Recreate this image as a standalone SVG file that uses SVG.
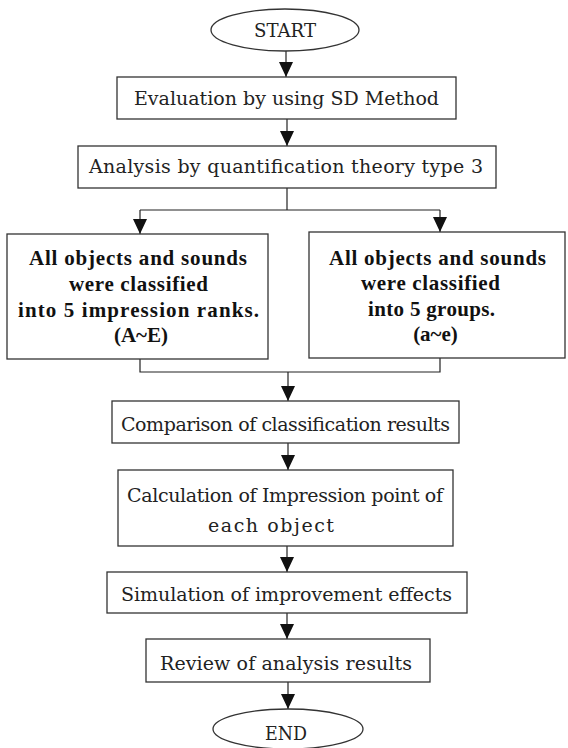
<svg xmlns="http://www.w3.org/2000/svg" width="568" height="748" viewBox="0 0 568 748">
<style>
  .box { fill: #ffffff; stroke: #333333; stroke-width: 1.3; }
  .t { font-family: "DejaVu Serif", "Liberation Serif", serif; font-size: 19px; fill: #222222; text-anchor: middle; }
  .b { font-family: "Liberation Serif", "DejaVu Serif", serif; font-size: 21px; font-weight: bold; fill: #111111; text-anchor: middle; }
  .c { fill: none; stroke: #222222; stroke-width: 1.2; }
</style>
<defs>
  <marker id="ah" markerUnits="userSpaceOnUse" markerWidth="16" markerHeight="15" refX="15" refY="7" orient="auto">
    <path d="M0,0 L15,7 L0,14 Z" fill="#111111"/>
  </marker>
</defs>
<rect width="568" height="748" fill="#ffffff"/>

<g id="connectors">
  <line class="c" x1="286" y1="51" x2="286" y2="77" marker-end="url(#ah)"/>
  <line class="c" x1="287" y1="119" x2="287" y2="146" marker-end="url(#ah)"/>
  <polyline class="c" points="287,188 287,210"/>
  <polyline class="c" points="140,210 440,210"/>
  <line class="c" x1="140" y1="210" x2="140" y2="234" marker-end="url(#ah)"/>
  <line class="c" x1="440" y1="210" x2="440" y2="232" marker-end="url(#ah)"/>
  <polyline class="c" points="140,359 140,372 440,372 440,358"/>
  <line class="c" x1="288" y1="372" x2="288" y2="401" marker-end="url(#ah)"/>
  <line class="c" x1="288" y1="443" x2="288" y2="470" marker-end="url(#ah)"/>
  <line class="c" x1="287" y1="546" x2="287" y2="572" marker-end="url(#ah)"/>
  <line class="c" x1="287" y1="613" x2="287" y2="639" marker-end="url(#ah)"/>
  <line class="c" x1="288" y1="682" x2="288" y2="709" marker-end="url(#ah)"/>
</g>

<g id="start">
  <ellipse class="box" cx="285" cy="30" rx="74" ry="21"/>
  <text class="t" x="285" y="37" textLength="62" lengthAdjust="spacingAndGlyphs">START</text>
</g>

<g id="evaluation">
  <rect class="box" x="117" y="77" width="339" height="42"/>
  <text class="t" x="286.5" y="105" textLength="305" lengthAdjust="spacing">Evaluation by using SD Method</text>
</g>

<g id="analysis">
  <rect class="box" x="78" y="146" width="418" height="42"/>
  <text class="t" x="286" y="173" textLength="394" lengthAdjust="spacing">Analysis by quantification theory type 3</text>
</g>

<g id="ranks">
  <rect class="box" x="7" y="234" width="261" height="125"/>
  <text class="b" x="138" y="265" textLength="218" lengthAdjust="spacing">All objects and sounds</text>
  <text class="b" x="138.5" y="291" textLength="139" lengthAdjust="spacing">were classified</text>
  <text class="b" x="138.5" y="317" textLength="241" lengthAdjust="spacing">into 5 impression ranks.</text>
  <text class="b" x="141" y="342">(A~E)</text>
</g>

<g id="groups">
  <rect class="box" x="309" y="232" width="256" height="126"/>
  <text class="b" x="437.5" y="265" textLength="217" lengthAdjust="spacing">All objects and sounds</text>
  <text class="b" x="430.5" y="290" textLength="139" lengthAdjust="spacing">were classified</text>
  <text class="b" x="431.5" y="316" textLength="127" lengthAdjust="spacing">into 5 groups.</text>
  <text class="b" x="435.5" y="341">(a~e)</text>
</g>

<g id="comparison">
  <rect class="box" x="112" y="401" width="347" height="42"/>
  <text class="t" x="285.5" y="431" textLength="329" lengthAdjust="spacing">Comparison of classification results</text>
</g>

<g id="calculation">
  <rect class="box" x="118" y="470" width="335" height="76"/>
  <text class="t" x="285" y="502" textLength="316" lengthAdjust="spacing">Calculation of Impression point of</text>
  <text class="t" x="271" y="532" textLength="126" lengthAdjust="spacing">each object</text>
</g>

<g id="simulation">
  <rect class="box" x="107" y="572" width="360" height="41"/>
  <text class="t" x="286.5" y="601" textLength="331" lengthAdjust="spacing">Simulation of improvement effects</text>
</g>

<g id="review">
  <rect class="box" x="146" y="639" width="284" height="43"/>
  <text class="t" x="286" y="670" textLength="252" lengthAdjust="spacing">Review of analysis results</text>
</g>

<g id="end">
  <ellipse class="box" cx="288" cy="729" rx="75" ry="20"/>
  <text class="t" x="286" y="740" textLength="42" lengthAdjust="spacingAndGlyphs">END</text>
</g>
</svg>
